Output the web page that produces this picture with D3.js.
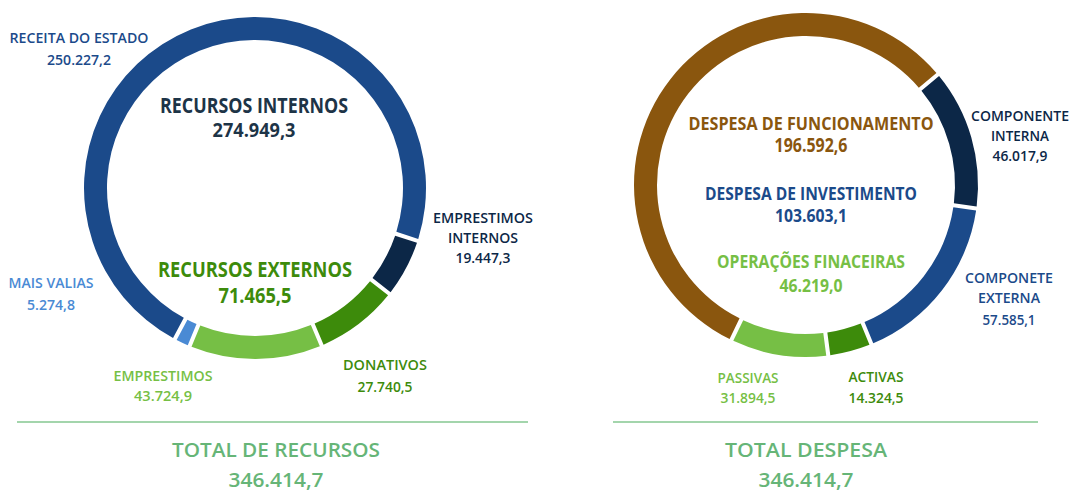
<!DOCTYPE html>
<html>
<head>
<meta charset="utf-8">
<script src="https://cdn.jsdelivr.net/npm/d3@7"></script>
<style>
  body { margin: 0; background: #fff; }
  svg { display: block; }
</style>
</head>
<body>
<div id="chart"></div>
<script>
// two donut rings: resources (left) and expenditure (right)

// resources ring, clockwise order
const recursosLabels = ["EMPRESTIMOS INTERNOS", "DONATIVOS", "EMPRESTIMOS", "MAIS VALIAS", "RECEITA DO ESTADO"];
const recursosValues = [19447.3, 27740.5, 43724.9, 5274.8, 250227.2];

// expenditure ring, clockwise order
const despesaLabels = ["COMPONENTE INTERNA", "COMPONETE EXTERNA", "ACTIVAS", "PASSIVAS", "DESPESA DE FUNCIONAMENTO"];
const despesaValues = [46017.9, 57585.1, 14324.5, 31894.5, 196592.6];

// group totals written inside the rings
const groupLabels = ["RECURSOS INTERNOS", "RECURSOS EXTERNOS", "DESPESA DE  FUNCIONAMENTO", "DESPESA DE INVESTIMENTO", "OPERAÇÕES FINACEIRAS"];
const groupValues = [274949.3, 71465.5, 196592.6, 103603.1, 46219.0];

// grand totals under each ring
const totalLabels = ["TOTAL DE RECURSOS", "TOTAL DESPESA"];
const totalValues = [346414.7, 346414.7];

const W = 1075, H = 492;
const fontFamily = "'Open Sans', 'DejaVu Sans', sans-serif";

const navy = "#0c2747", blue = "#1b4a8a", skyBlue = "#4a8ad4",
      lightGreen = "#76bf45", darkGreen = "#3d8b0b", brown = "#8a560e",
      totalGreen = "#66b577", lineGreen = "#a3d5ac", slate = "#1d3447";

const color = d3.scaleOrdinal()
  .domain(recursosLabels.concat(despesaLabels))
  .range([navy, darkGreen, lightGreen, skyBlue, blue,
          navy, blue, darkGreen, lightGreen, brown]);

const groupColor = d3.scaleOrdinal()
  .domain(groupLabels)
  .range([slate, darkGreen, brown, blue, lightGreen]);

// pt-PT style numbers: 250.227,2
const fmt = d3.formatLocale({decimal: ",", thousands: ".", grouping: [3], currency: ["", ""]}).format(",.1f");

const svg = d3.select("#chart").append("svg")
  .attr("width", W)
  .attr("height", H);

// text helper, squeezes glyphs to the measured width
function label(g, txt, x, y, width, size, weight, fill) {
  g.append("text")
    .attr("x", x)
    .attr("y", y)
    .attr("text-anchor", "middle")
    .attr("textLength", width)
    .attr("lengthAdjust", "spacingAndGlyphs")
    .style("font-family", fontFamily)
    .style("font-size", size + "px")
    .style("font-weight", weight)
    .style("fill", fill)
    .text(txt);
}

// ring geometry
const rings = [
  {labels: recursosLabels, values: recursosValues, cx: 255, cy: 188, r: 171, start: 108},
  {labels: despesaLabels, values: despesaValues, cx: 806, cy: 185, r: 172, start: 50}
];

rings.forEach(ring => {
  const pie = d3.pie()
    .sort(null)
    .value(d => d[1])
    .startAngle(ring.start * Math.PI / 180)
    .endAngle(ring.start * Math.PI / 180 + 2 * Math.PI);

  const arc = d3.arc()
    .innerRadius(ring.r - 23)
    .outerRadius(ring.r)
    .padAngle(0.018);

  svg.append("g")
    .attr("transform", `translate(${ring.cx},${ring.cy})`)
    .selectAll("path")
    .data(pie(d3.zip(ring.labels, ring.values)))
    .join("path")
      .attr("d", arc)
      .attr("fill", d => color(d.data[0]));
});

// outside labels: lines of the name, centre x, first baseline, widths
const sliceLayout = {
  "RECEITA DO ESTADO":    {lines: ["RECEITA DO ESTADO"], x: 79, y: 43, w: [139], vy: 65, vw: 64},
  "EMPRESTIMOS INTERNOS": {lines: ["EMPRESTIMOS", "INTERNOS"], x: 483, y: 223, w: [100, 70], vy: 263, vw: 55},
  "DONATIVOS":            {lines: ["DONATIVOS"], x: 385, y: 370, w: [84], vy: 392, vw: 55},
  "EMPRESTIMOS":          {lines: ["EMPRESTIMOS"], x: 163, y: 381, w: [99], vy: 401, vw: 58},
  "MAIS VALIAS":          {lines: ["MAIS VALIAS"], x: 51, y: 288, w: [85], vy: 310, vw: 48},
  "COMPONENTE INTERNA":   {lines: ["COMPONENTE", "INTERNA"], x: 1020, y: 121, w: [98, 58], vy: 161, vw: 55},
  "COMPONETE EXTERNA":    {lines: ["COMPONETE", "EXTERNA"], x: 1009, y: 283, w: [88, 62], vy: 325, vw: 53},
  "PASSIVAS":             {lines: ["PASSIVAS"], x: 748, y: 383, w: [61], vy: 403, vw: 55},
  "ACTIVAS":              {lines: ["ACTIVAS"], x: 876, y: 382, w: [55], vy: 403, vw: 55}
};

const sliceLabels = svg.append("g").attr("class", "slice-labels");
recursosLabels.concat(despesaLabels).forEach((name, i) => {
  const lay = sliceLayout[name];
  if (!lay) return; // funcionamento is labelled inside the ring
  const value = recursosValues.concat(despesaValues)[i];
  lay.lines.forEach((line, j) => {
    label(sliceLabels, line, lay.x, lay.y + j * 20, lay.w[j], 15, 600, color(name));
  });
  label(sliceLabels, fmt(value), lay.x, lay.vy, lay.vw, 15, 600, color(name));
});

// inside labels
const groupLayout = [
  {x: 254, y: 113, w: 188, vy: 137, vw: 83, size: 22, vsize: 20},
  {x: 255, y: 277, w: 194, vy: 303, vw: 73, size: 21, vsize: 21},
  {x: 811, y: 130, w: 245, vy: 152, vw: 73, size: 18, vsize: 19},
  {x: 811, y: 200, w: 212, vy: 222, vw: 72, size: 18, vsize: 18},
  {x: 811, y: 268, w: 188, vy: 292, vw: 63, size: 17, vsize: 18}
];

const groupG = svg.append("g").attr("class", "group-labels");
groupLabels.forEach((name, i) => {
  const lay = groupLayout[i];
  label(groupG, name, lay.x, lay.y, lay.w, lay.size, 700, groupColor(name));
  label(groupG, fmt(groupValues[i]), lay.x, lay.vy, lay.vw, lay.vsize, 700, groupColor(name));
});

// separators and grand totals
const totalLayout = [
  {x: 276, w: 208, x1: 17, x2: 528},
  {x: 806, w: 162, x1: 613, x2: 1038}
];

const totalG = svg.append("g").attr("class", "totals");
totalLabels.forEach((name, i) => {
  const lay = totalLayout[i];
  totalG.append("line")
    .attr("x1", lay.x1).attr("x2", lay.x2)
    .attr("y1", 422).attr("y2", 422)
    .attr("stroke", lineGreen)
    .attr("stroke-width", 2);
  label(totalG, name, lay.x, 457, lay.w, 20, 600, totalGreen);
  label(totalG, fmt(totalValues[i]), lay.x, 487, 95, 20, 600, totalGreen);
});
</script>
</body>
</html>
